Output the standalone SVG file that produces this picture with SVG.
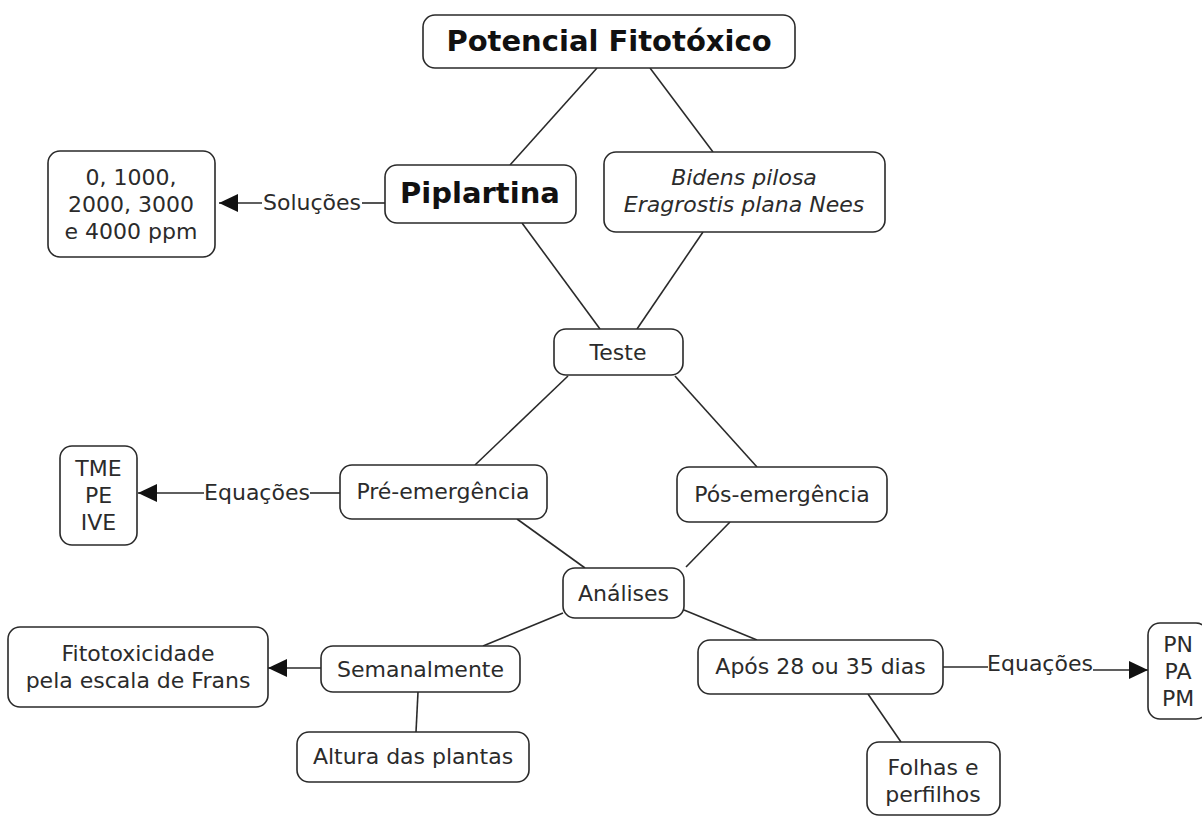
<svg xmlns="http://www.w3.org/2000/svg" width="1202" height="816" viewBox="0 0 1202 816">
<style>
  .box { fill: #ffffff; stroke: #2a2a2a; stroke-width: 1.6; }
  .t { font-family: "DejaVu Sans", Verdana, sans-serif; font-size: 22px; fill: #2b2b2b; text-anchor: middle; }
  .b { font-weight: bold; font-size: 29px; fill: #111; }
  .i { font-style: italic; }
  .lbl { font-family: "DejaVu Sans", Verdana, sans-serif; font-size: 22px; fill: #2b2b2b; text-anchor: middle; }
  .c { stroke: #2a2a2a; stroke-width: 1.6; fill: none; }
  .a { marker-end: url(#arrow); }
</style>
<defs>
  <marker id="arrow" markerUnits="userSpaceOnUse" markerWidth="19" markerHeight="18" viewBox="0 0 19 18" refX="19" refY="9" orient="auto">
    <path d="M0,0 L19,9 L0,18 z" fill="#111"/>
  </marker>
</defs>
<rect width="1202" height="816" fill="#ffffff"/>

<g id="connectors">
  <line class="c" x1="597" y1="68" x2="510" y2="165"/>
  <line class="c" x1="650" y1="68" x2="713" y2="152"/>
  <line class="c" x1="522" y1="223" x2="600" y2="329"/>
  <line class="c" x1="703" y1="232" x2="637" y2="329"/>
  <line class="c" x1="385" y1="203" x2="362" y2="203"/>
  <line class="c a" x1="262" y1="203" x2="219" y2="203"/>
  <text class="lbl" x="312" y="210">Soluções</text>
  <line class="c" x1="568" y1="376" x2="475" y2="465"/>
  <line class="c" x1="675" y1="376" x2="757" y2="467"/>
  <line class="c" x1="517" y1="519" x2="585" y2="568"/>
  <line class="c" x1="730" y1="522" x2="686" y2="567"/>
  <line class="c" x1="340" y1="493" x2="310" y2="493"/>
  <line class="c a" x1="204" y1="493" x2="138" y2="493"/>
  <text class="lbl" x="257" y="500">Equações</text>
  <line class="c" x1="563" y1="613" x2="483" y2="646"/>
  <line class="c" x1="684" y1="610" x2="757" y2="640"/>
  <line class="c a" x1="321" y1="668" x2="268" y2="668"/>
  <line class="c" x1="418" y1="692" x2="416" y2="732"/>
  <line class="c" x1="868" y1="694" x2="901" y2="742"/>
  <line class="c" x1="943" y1="667" x2="988" y2="667"/>
  <line class="c a" x1="1093" y1="670" x2="1148" y2="670"/>
  <text class="lbl" x="1040" y="671">Equações</text>
</g>

<g id="node-potencial">
  <rect class="box" x="423" y="15" width="372" height="53" rx="12"/>
  <text class="t b" x="609" y="51">Potencial Fitotóxico</text>
</g>
<g id="node-piplartina">
  <rect class="box" x="385" y="165" width="191" height="58" rx="12"/>
  <text class="t b" x="480" y="203">Piplartina</text>
</g>
<g id="node-especies">
  <rect class="box" x="604" y="152" width="281" height="80" rx="12"/>
  <text class="t i" x="744" y="185">Bidens pilosa</text>
  <text class="t i" x="744" y="212">Eragrostis plana Nees</text>
</g>
<g id="node-solucoes">
  <rect class="box" x="48" y="151" width="167" height="106" rx="12"/>
  <text class="t" x="131" y="185">0, 1000,</text>
  <text class="t" x="131" y="212">2000, 3000</text>
  <text class="t" x="131" y="239">e 4000 ppm</text>
</g>
<g id="node-teste">
  <rect class="box" x="554" y="329" width="129" height="46" rx="12"/>
  <text class="t" x="618" y="360">Teste</text>
</g>
<g id="node-pre">
  <rect class="box" x="340" y="465" width="207" height="54" rx="12"/>
  <text class="t" x="443" y="499">Pré-emergência</text>
</g>
<g id="node-pos">
  <rect class="box" x="677" y="467" width="210" height="55" rx="12"/>
  <text class="t" x="782" y="502">Pós-emergência</text>
</g>
<g id="node-tme">
  <rect class="box" x="60" y="446" width="77" height="99" rx="12"/>
  <text class="t" x="98.5" y="476">TME</text>
  <text class="t" x="98.5" y="503">PE</text>
  <text class="t" x="98.5" y="530">IVE</text>
</g>
<g id="node-analises">
  <rect class="box" x="563" y="568" width="121" height="50" rx="12"/>
  <text class="t" x="623.5" y="601">Análises</text>
</g>
<g id="node-semanalmente">
  <rect class="box" x="321" y="646" width="199" height="46" rx="12"/>
  <text class="t" x="420.5" y="677">Semanalmente</text>
</g>
<g id="node-fitotoxicidade">
  <rect class="box" x="8" y="627" width="260" height="80" rx="12"/>
  <text class="t" x="138" y="661">Fitotoxicidade</text>
  <text class="t" x="138" y="688">pela escala de Frans</text>
</g>
<g id="node-altura">
  <rect class="box" x="297" y="732" width="232" height="50" rx="12"/>
  <text class="t" x="413" y="764">Altura das plantas</text>
</g>
<g id="node-apos">
  <rect class="box" x="698" y="640" width="245" height="54" rx="12"/>
  <text class="t" x="820.5" y="674">Após 28 ou 35 dias</text>
</g>
<g id="node-folhas">
  <rect class="box" x="867" y="742" width="133" height="73" rx="12"/>
  <text class="t" x="933" y="775">Folhas e</text>
  <text class="t" x="933" y="802">perfilhos</text>
</g>
<g id="node-pn">
  <rect class="box" x="1148" y="623" width="60" height="96" rx="12"/>
  <text class="t" x="1178" y="652">PN</text>
  <text class="t" x="1178" y="679">PA</text>
  <text class="t" x="1178" y="706">PM</text>
</g>
</svg>
